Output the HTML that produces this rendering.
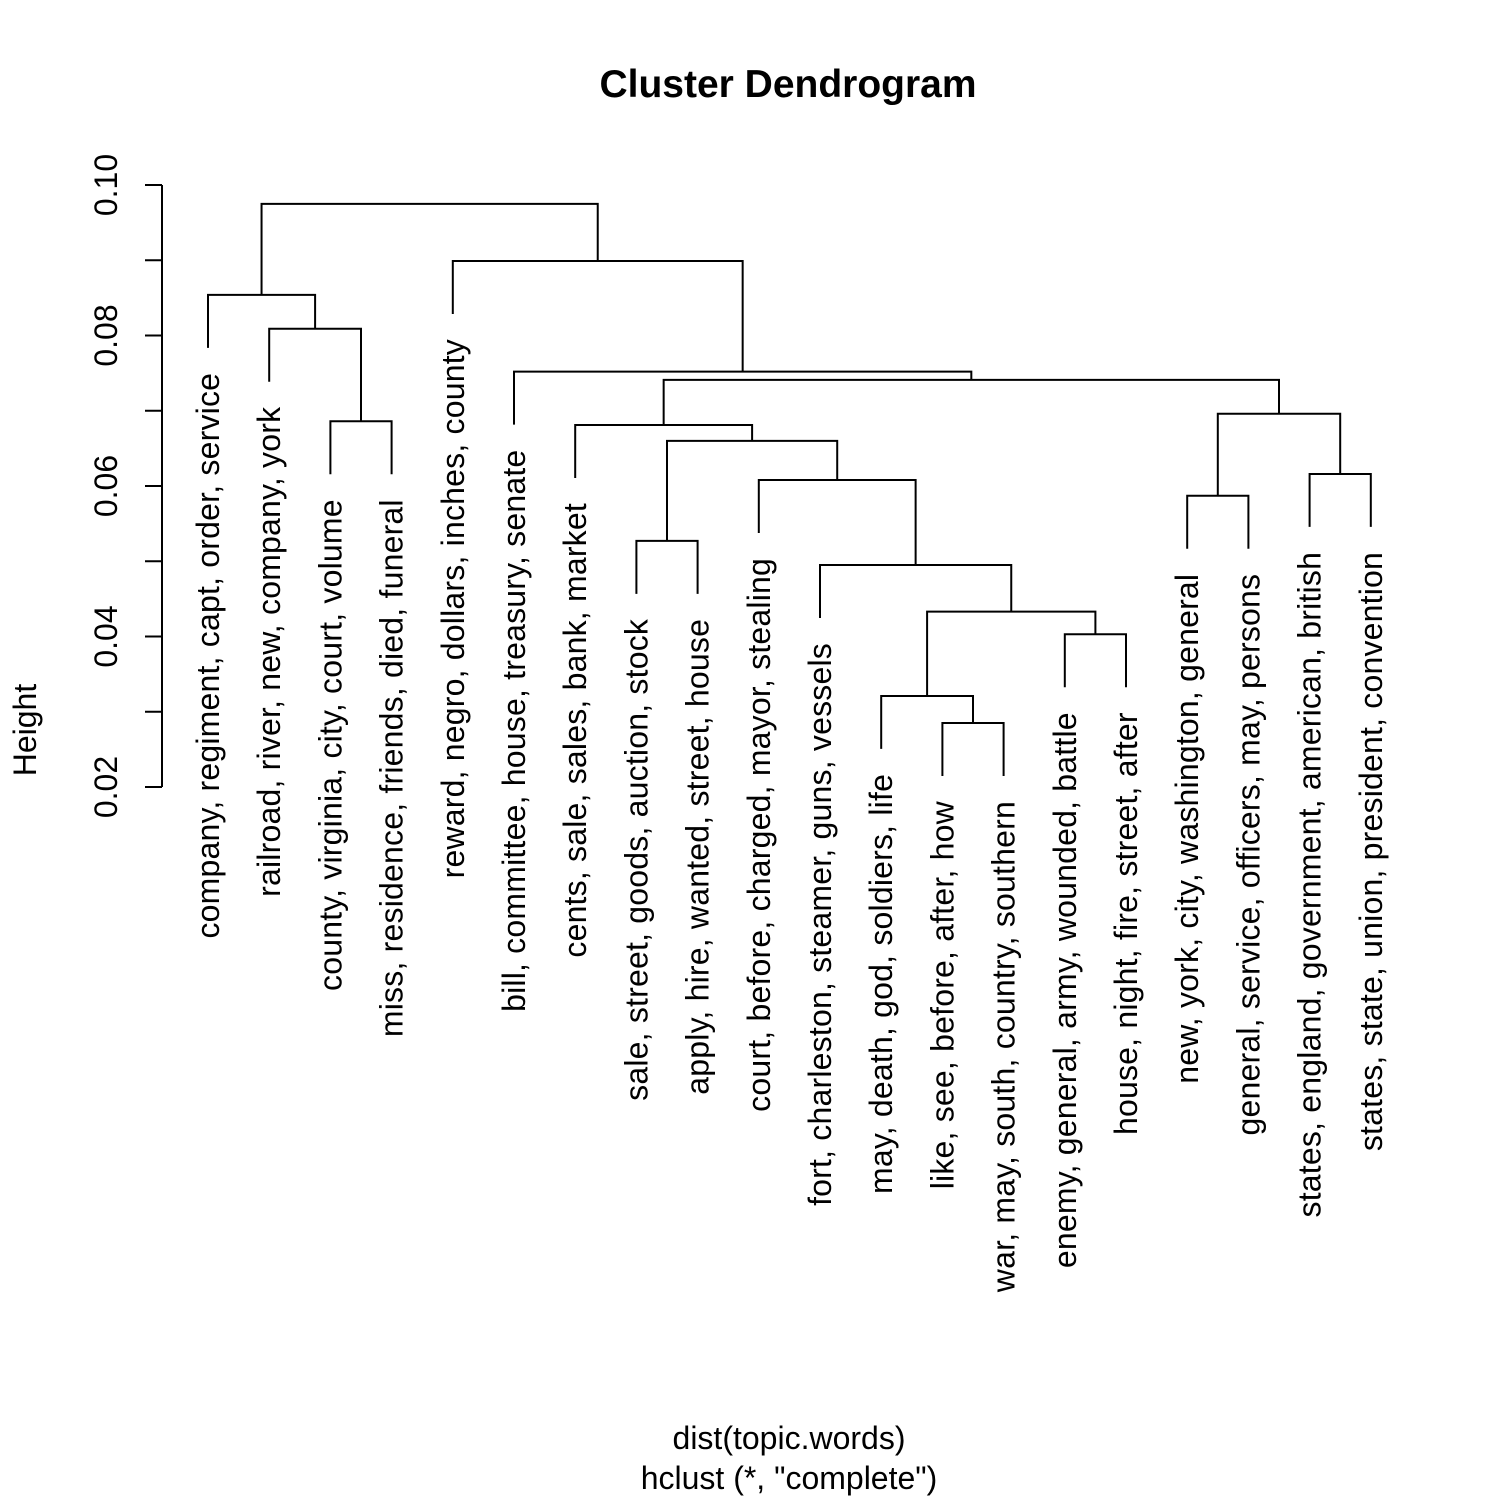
<!DOCTYPE html>
<html><head><meta charset="utf-8"><style>
html,body{margin:0;padding:0;background:#fff;}
svg{display:block;font-family:"Liberation Sans",Arial,sans-serif;}
</style></head><body>
<svg id="chart" width="1500" height="1500" viewBox="0 0 1500 1500" xmlns="http://www.w3.org/2000/svg">
<text x="788" y="97" font-size="39" font-weight="bold" text-anchor="middle">Cluster Dendrogram</text>
<text transform="translate(36,730) rotate(-90)" font-size="32" text-anchor="middle">Height</text>
<text x="789" y="1449" font-size="32" text-anchor="middle">dist(topic.words)</text>
<text x="789" y="1489" font-size="32" text-anchor="middle">hclust (*, "complete")</text>
<g id="axis"></g>
<g id="tree"></g>
<g id="labels"></g>
</svg>
<script>
const labels = ["company, regiment, capt, order, service","railroad, river, new, company, york","county, virginia, city, court, volume","miss, residence, friends, died, funeral","reward, negro, dollars, inches, county","bill, committee, house, treasury, senate","cents, sale, sales, bank, market","sale, street, goods, auction, stock","apply, hire, wanted, street, house","court, before, charged, mayor, stealing","fort, charleston, steamer, guns, vessels","may, death, god, soldiers, life","like, see, before, after, how","war, may, south, country, southern","enemy, general, army, wounded, battle","house, night, fire, street, after","new, york, city, washington, general","general, service, officers, may, persons","states, england, government, american, british","states, state, union, president, convention"];
const mergeLeft  = [-3,-2,-1,-13,-12,-15, 5,-11,-10,-8, 10,-7,-17,-19, 13,12,-6,-5, 3];
const mergeRight = [-4, 1, 2,-14,  4,-16, 6,  7,  8,-9,  9,11,-18,-20, 14,15,16,17,18];
const mergeHeight = [0.0686,0.0809,0.0854,0.0285,0.0321,0.0403,0.0433,0.0495,0.0608,0.0527,0.0660,0.0681,0.0587,0.0616,0.0696,0.0741,0.0752,0.0899,0.0975];
const yTicks = [0.02,0.04,0.06,0.08,0.10];
const tickLabels = ["0.02","0.04","0.06","0.08","0.10"];
const hang = 0.00704;

const NS="http://www.w3.org/2000/svg";
const y = v => 787 - (v-0.02)*7525;
const x = i => 208 + (i-1)*61.2;
function mk(tag, attrs, parent){const e=document.createElementNS(NS,tag);for(const k in attrs)e.setAttribute(k,attrs[k]);parent.appendChild(e);return e;}

const axis=document.getElementById('axis');
const al=mk('line',{x1:162,x2:162,y1:y(0.10),y2:y(0.02),stroke:'#000','stroke-width':2},axis);


yTicks.forEach((v,i)=>{
  const t=mk('line',{x1:145,x2:162,y1:y(v),y2:y(v),stroke:'#000','stroke-width':2},axis);
  
  
  const tl=mk('text',{transform:`translate(117,${y(v)}) rotate(-90)`,'font-size':32,'text-anchor':'middle'},axis);
  
  
  tl.textContent=tickLabels[i];
});
[0.03,0.05,0.07,0.09].forEach(v=>{
  const t=mk('line',{x1:145,x2:162,y1:y(v),y2:y(v),stroke:'#000','stroke-width':2},axis);
  
  
});

const tree=document.getElementById('tree');
const lab=document.getElementById('labels');
const pos=[];
function nodeX(id){return id<0?x(-id):pos[id-1];}
function nodeTop(id,parentH){return id<0?parentH-hang:mergeHeight[id-1];}
for(let m=0;m<mergeHeight.length;m++){
  const a=mergeLeft[m], b=mergeRight[m], h=mergeHeight[m];
  const xa=nodeX(a), xb=nodeX(b);
  pos.push((xa+xb)/2);
  const ya=y(nodeTop(a,h)), yb=y(nodeTop(b,h)), yh=y(h);
  const p=mk('path',{d:`M${xa},${ya}V${yh}H${xb}V${yb}`,fill:'none',stroke:'#000','stroke-width':2},tree);
  
  
  [[a,ya],[b,yb]].forEach(([id,yy])=>{
    if(id<0){
      const t=mk('text',{transform:`translate(${x(-id)+11},${yy+25}) rotate(-90)`,'font-size':32,'letter-spacing':0.2,'text-anchor':'end'},lab);
      
      
      t.textContent=labels[-id-1];
    }
  });
}
</script>
</body></html>
